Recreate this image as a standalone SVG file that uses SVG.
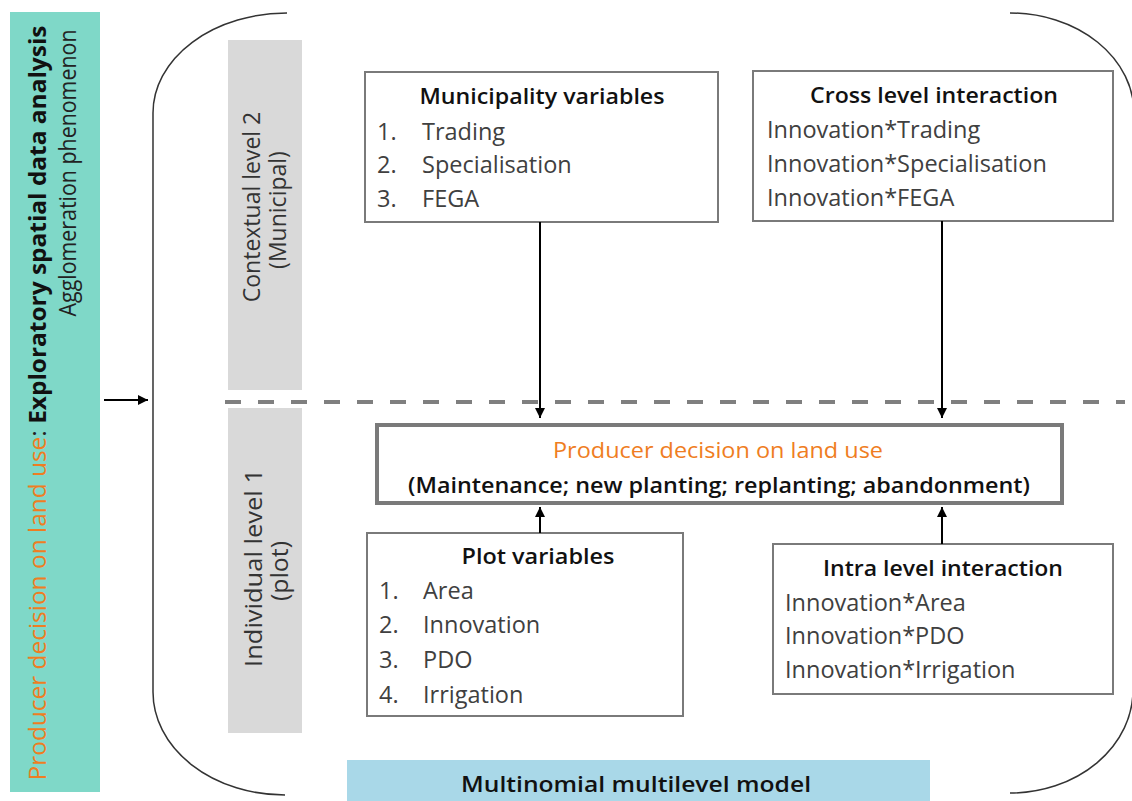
<svg xmlns="http://www.w3.org/2000/svg" width="1132" height="801" viewBox="0 0 1132 801">
  <style>
    .txt { font-family: "Open Sans", "Liberation Sans", sans-serif; fill: #404040; font-size: 23.5px; }
    .ttl { font-family: "Open Sans", "Liberation Sans", sans-serif; fill: #111; font-size: 22px; font-weight: 600; text-anchor: middle; }
    .box { fill: #fff; stroke: #7a7a7a; stroke-width: 2; }
    .band { fill: #d9d9d9; }
    .lvl { font-family: "Open Sans", "Liberation Sans", sans-serif; fill: #333; font-size: 23px; text-anchor: middle; }
    .conn { stroke: #000; stroke-width: 2; fill: none; marker-end: url(#ah); }
    .orange { fill: #ef7d22; }
  </style>
  <defs>
    <marker id="ah" viewBox="0 0 10 10" refX="10" refY="5" markerWidth="5" markerHeight="5" orient="auto" markerUnits="strokeWidth">
      <path d="M0,0 L10,5 L0,10 z" fill="#000"/>
    </marker>
  </defs>

  <rect width="1132" height="801" fill="#fff"/>

  <!-- left side panel -->
  <g id="esda">
    <rect x="10" y="12" width="90" height="780" fill="#7fd8c8"/>
    <text transform="translate(46,403) rotate(-90)" text-anchor="middle" font-family="Open Sans, Liberation Sans, sans-serif" font-size="23" textLength="755" lengthAdjust="spacingAndGlyphs"><tspan class="orange">Producer decision on land use</tspan><tspan fill="#222">: </tspan><tspan fill="#111" font-weight="700">Exploratory spatial data analysis</tspan></text>
    <text transform="translate(76,173) rotate(-90)" text-anchor="middle" font-family="Open Sans, Liberation Sans, sans-serif" font-size="23" fill="#222" textLength="287" lengthAdjust="spacingAndGlyphs">Agglomeration phenomenon</text>
  </g>

  <!-- enclosing brackets -->
  <g id="brackets" fill="none" stroke="#333" stroke-width="1.5">
    <path d="M287,13 A134,100 0 0 0 153,113 L153,692 A132,103 0 0 0 285,795"/>
    <path d="M1010,13 A124,100 0 0 1 1134,113"/>
    <path d="M1133,690 A123,103 0 0 1 1010,793"/>
  </g>

  <!-- level bands -->
  <g id="level2">
    <rect class="band" x="228" y="40" width="74" height="350"/>
    <text class="lvl" transform="translate(260,207) rotate(-90)">Contextual level 2</text>
    <text class="lvl" transform="translate(286,210) rotate(-90)">(Municipal)</text>
  </g>
  <g id="level1">
    <rect class="band" x="228" y="408" width="74" height="325"/>
    <text class="lvl" transform="translate(262,568) rotate(-90)" font-size="21" textLength="198" lengthAdjust="spacingAndGlyphs">Individual level 1</text>
    <text class="lvl" transform="translate(288,571) rotate(-90)" font-size="21" textLength="60" lengthAdjust="spacingAndGlyphs">(plot)</text>
  </g>

  <!-- level separator -->
  <line id="separator" x1="225" y1="402" x2="1125" y2="402" stroke="#7f7f7f" stroke-width="4" stroke-dasharray="16,17"/>

  <!-- variable boxes -->
  <g id="municipality">
    <rect class="box" x="365" y="72" width="353" height="150"/>
    <text class="ttl" x="542" y="104" textLength="245" lengthAdjust="spacingAndGlyphs">Municipality variables</text>
    <text class="txt" x="377" y="140">1.</text><text class="txt" x="422" y="140">Trading</text>
    <text class="txt" x="377" y="173">2.</text><text class="txt" x="422" y="173">Specialisation</text>
    <text class="txt" x="377" y="207">3.</text><text class="txt" x="422" y="207">FEGA</text>
  </g>

  <g id="cross">
    <rect class="box" x="753" y="71" width="360" height="150"/>
    <text class="ttl" x="934" y="103" textLength="248" lengthAdjust="spacingAndGlyphs">Cross level interaction</text>
    <text class="txt" x="767" y="138">Innovation*Trading</text>
    <text class="txt" x="767" y="172">Innovation*Specialisation</text>
    <text class="txt" x="767" y="206">Innovation*FEGA</text>
  </g>

  <g id="decision">
    <rect x="377" y="425" width="685" height="78" fill="#fff" stroke="#7a7a7a" stroke-width="4"/>
    <text x="718" y="458" text-anchor="middle" font-family="Open Sans, Liberation Sans, sans-serif" font-size="22" class="orange" textLength="330" lengthAdjust="spacingAndGlyphs">Producer decision on land use</text>
    <text x="719" y="493" text-anchor="middle" font-family="Open Sans, Liberation Sans, sans-serif" font-size="22" font-weight="600" fill="#111" textLength="622" lengthAdjust="spacingAndGlyphs">(Maintenance; new planting; replanting; abandonment)</text>
  </g>

  <g id="plot">
    <rect class="box" x="367" y="533" width="316" height="183"/>
    <text class="ttl" x="538" y="564" textLength="153" lengthAdjust="spacingAndGlyphs">Plot variables</text>
    <text class="txt" x="379" y="599">1.</text><text class="txt" x="423" y="599">Area</text>
    <text class="txt" x="379" y="633">2.</text><text class="txt" x="423" y="633">Innovation</text>
    <text class="txt" x="379" y="668">3.</text><text class="txt" x="423" y="668">PDO</text>
    <text class="txt" x="379" y="703">4.</text><text class="txt" x="423" y="703">Irrigation</text>
  </g>

  <g id="intra">
    <rect class="box" x="773" y="544" width="340" height="150"/>
    <text class="ttl" x="943" y="576" textLength="240" lengthAdjust="spacingAndGlyphs">Intra level interaction</text>
    <text class="txt" x="785" y="611">Innovation*Area</text>
    <text class="txt" x="785" y="644">Innovation*PDO</text>
    <text class="txt" x="785" y="678">Innovation*Irrigation</text>
  </g>

  <g id="model">
    <rect x="347" y="760" width="583" height="45" fill="#a9d8e8"/>
    <text class="ttl" x="636" y="792" font-size="23" font-weight="700" textLength="350" lengthAdjust="spacingAndGlyphs">Multinomial multilevel model</text>
  </g>

  <!-- connectors -->
  <g id="connectors">
    <line class="conn" x1="104" y1="400" x2="148" y2="400"/>
    <line class="conn" x1="540" y1="222" x2="540" y2="418"/>
    <line class="conn" x1="942" y1="221" x2="942" y2="418"/>
    <line class="conn" x1="540" y1="533" x2="540" y2="507"/>
    <line class="conn" x1="942" y1="544" x2="942" y2="507"/>
  </g>
</svg>
